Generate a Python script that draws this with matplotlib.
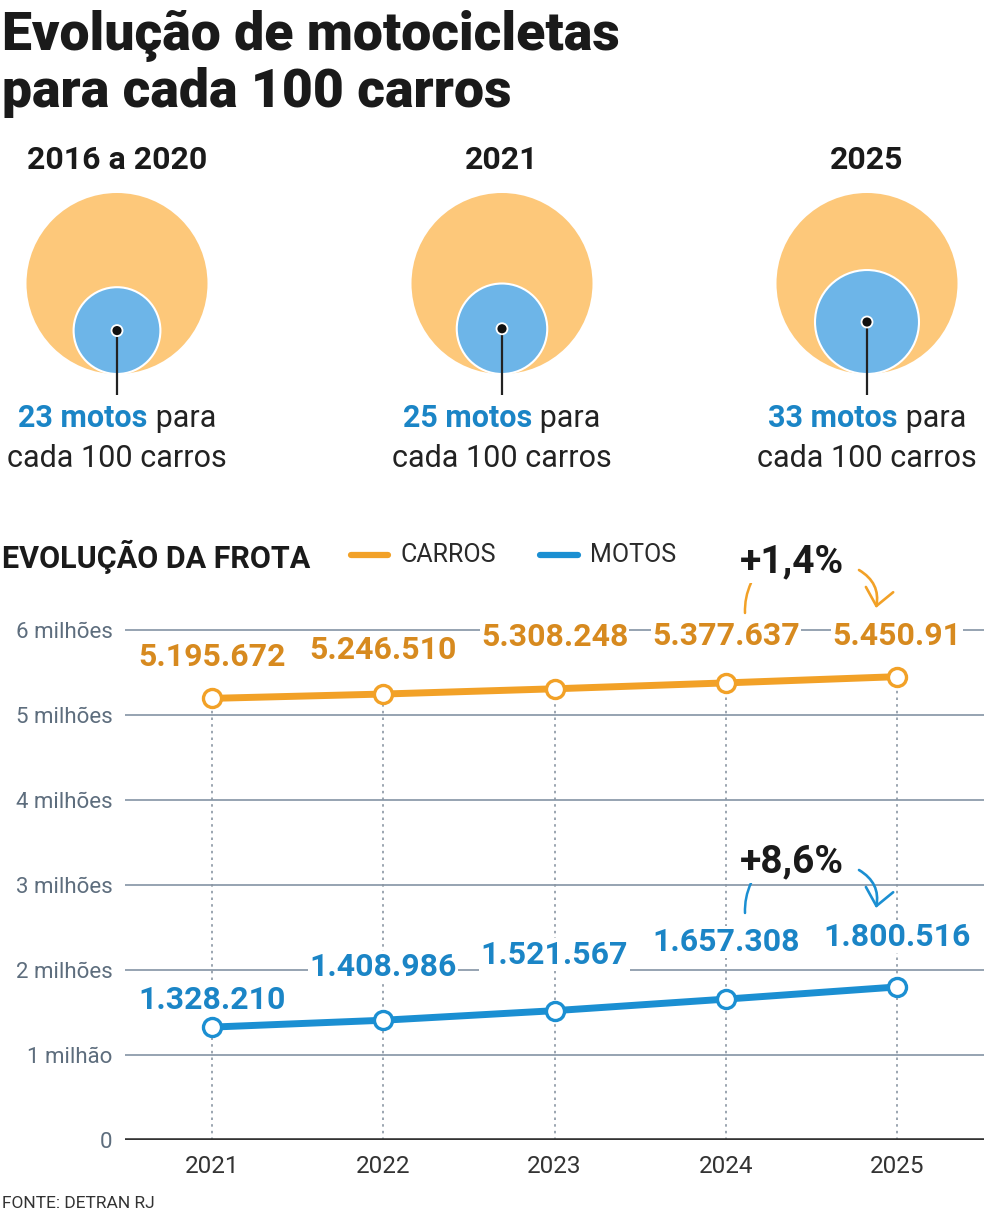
import matplotlib
matplotlib.use("Agg")
import matplotlib.pyplot as plt
from matplotlib.patches import Circle
from matplotlib.lines import Line2D
import numpy as np

# ---------------- data ----------------
ratio_periods = ["2016 a 2020", "2021", "2025"]
motos_per_100 = [23, 25, 33]

years = [2021, 2022, 2023, 2024, 2025]
carros = [5195672, 5246510, 5308248, 5377637, 5450910]
motos = [1328210, 1408986, 1521567, 1657308, 1800516]
carros_labels = ["5.195.672", "5.246.510", "5.308.248", "5.377.637", "5.450.91"]
motos_labels = ["1.328.210", "1.408.986", "1.521.567", "1.657.308", "1.800.516"]
ytick_vals = [0, 1e6, 2e6, 3e6, 4e6, 5e6, 6e6]
ytick_labels = ["0", "1 milhão", "2 milhões", "3 milhões", "4 milhões", "5 milhões", "6 milhões"]

# ---------------- style ----------------
plt.rcParams["font.family"] = ["Roboto", "DejaVu Sans"]
ORANGE = "#f2a127"
ORANGE_TXT = "#d78a1f"
BLUE = "#1b8fd2"
BLUE_TXT = "#1b85c6"
ORANGE_FILL = "#fdc87a"
BLUE_FILL = "#6db5e8"
DARK = "#1a1a1a"
GREY_TXT = "#5d6d7d"
GRID = "#8e9cab"

W, H = 984, 1218
fig = plt.figure(figsize=(W / 100, H / 100), dpi=100)
fig.patch.set_facecolor("white")

# ---------------- chart axes ----------------
px_per_m = 85.0
ax_left, ax_right, ax_zero, ax_top = 125, 984, 1140, 600
ax = fig.add_axes([ax_left / W, (H - ax_zero) / H, (ax_right - ax_left) / W, (ax_zero - ax_top) / H])
ax.set_ylim(0, (ax_zero - ax_top) / px_per_m * 1e6)
ax.set_xlim(2020.492, 2025.508)
for s in ax.spines.values():
    s.set_visible(False)
ax.set_yticks(ytick_vals)
ax.set_yticklabels(ytick_labels)
ax.set_xticks(years)
ax.set_xticklabels([str(y) for y in years])
ax.tick_params(axis="y", length=0, pad=9, labelsize=16, labelcolor=GREY_TXT)
ax.tick_params(axis="x", length=0, pad=11, labelsize=17.5, labelcolor="#333333")
ax.yaxis.grid(True, color=GRID, lw=1.3, zorder=0)
ax.set_axisbelow(True)
ax.axhline(0, color="#333333", lw=2.6, zorder=2)

ax.vlines(years, 0, carros, colors="#8a96a3", linestyles=(0, (1.5, 2.5)), lw=1.2, zorder=1)

ax.plot(years, carros, color=ORANGE, lw=5, marker="o", ms=13, mfc="white", mec=ORANGE,
        mew=2.4, zorder=4, solid_capstyle="round")
ax.plot(years, motos, color=BLUE, lw=5, marker="o", ms=13, mfc="white", mec=BLUE,
        mew=2.4, zorder=4, solid_capstyle="round")

carros_off_px = [41, 44, 52, 47, 41]
motos_off_px = [27, 53, 56, 57, 50]
for x, v, lab, off in zip(years, carros, carros_labels, carros_off_px):
    ax.annotate(lab, (x, v), xytext=(0, off * 0.72), textcoords="offset points", ha="center",
                va="center", fontsize=23, fontweight="bold", color=ORANGE_TXT, zorder=5,
                bbox=dict(fc="white", ec="none", pad=1.0))
for x, v, lab, off in zip(years, motos, motos_labels, motos_off_px):
    ax.annotate(lab, (x, v), xytext=(0, off * 0.72), textcoords="offset points", ha="center",
                va="center", fontsize=23, fontweight="bold", color=BLUE_TXT, zorder=5,
                bbox=dict(fc="white", ec="none", pad=1.0))

# ---------------- overlay (pixel coordinates) ----------------
ov = fig.add_axes([0, 0, 1, 1], zorder=10)
ov.set_xlim(0, W)
ov.set_ylim(H, 0)
ov.axis("off")
ov.patch.set_alpha(0)

# title
ov.text(2, 50, "Evolução de motocicletas", fontsize=38.5, fontweight="black", color=DARK,
        ha="left", va="baseline")
ov.text(2, 107, "para cada 100 carros", fontsize=38.5, fontweight="black", color=DARK,
        ha="left", va="baseline")

# circles
centers = [117, 502, 867]
R = 90.5
cy_big = 283.5
renderer = fig.canvas.get_renderer()
for cx, per, n in zip(centers, ratio_periods, motos_per_100):
    ov.text(cx, 169, per, fontsize=23, fontweight="bold", color=DARK, ha="center", va="baseline")
    ov.add_patch(Circle((cx, cy_big), R, fc=ORANGE_FILL, ec="none", zorder=2))
    r = R * np.sqrt(n / 100)
    cy_s = cy_big + R - r
    ov.add_patch(Circle((cx, cy_s), r, fc=BLUE_FILL, ec="white", lw=1.5, zorder=3))
    ov.plot([cx, cx], [cy_s, 395], color="#222222", lw=1.6, zorder=4, solid_capstyle="butt")
    ov.add_patch(Circle((cx, cy_s), 5.5, fc="#111111", ec="white", lw=1.3, zorder=5))
    t1 = ov.text(0, 427, f"{n} motos", fontsize=22, fontweight="bold", color=BLUE_TXT,
                 ha="left", va="baseline")
    t2 = ov.text(0, 427, " para", fontsize=22, color="#222222", ha="left", va="baseline")
    w1 = t1.get_window_extent(renderer).width
    w2 = t2.get_window_extent(renderer).width
    x0 = cx - (w1 + w2) / 2
    t1.set_x(x0)
    t2.set_x(x0 + w1)
    ov.text(cx, 467, "cada 100 carros", fontsize=22, color="#222222", ha="center", va="baseline")

# section heading and legend
ov.text(2, 557, "EVOLUÇÃO DA FROTA", fontsize=22, fontweight="bold", color=DARK,
        ha="left", va="center")
ov.add_line(Line2D([351, 388], [555, 555], color=ORANGE, lw=4.5, solid_capstyle="round"))
ov.text(400, 555, "CARROS", fontsize=18, color="#2a2a2a", ha="left", va="center")
ov.add_line(Line2D([540, 578], [555, 555], color=BLUE, lw=4.5, solid_capstyle="round"))
ov.text(590, 555, "MOTOS", fontsize=18, color="#2a2a2a", ha="left", va="center")

# growth annotations
g_car = (carros[-1] / carros[-2] - 1) * 100
g_moto = (motos[-1] / motos[-2] - 1) * 100
txt_car = "+" + f"{g_car:.1f}".replace(".", ",") + "%"
txt_moto = "+" + f"{g_moto:.1f}".replace(".", ",") + "%"

for txt, ty, col in [(txt_car, 562, ORANGE), (txt_moto, 862, BLUE)]:
    ov.text(792, ty, txt, fontsize=28, fontweight="bold", color=DARK, ha="center", va="center",
            zorder=6, bbox=dict(fc="white", ec="none", pad=2))
    ov.annotate("", xy=(751, ty + 21), xytext=(745, ty + 51),
                arrowprops=dict(arrowstyle="-", color=col, lw=1.8,
                                connectionstyle="arc3,rad=-0.12", shrinkA=0, shrinkB=0))
    ov.annotate("", xy=(876, ty + 46), xytext=(859, ty + 8),
                arrowprops=dict(arrowstyle="->,head_length=0.6,head_width=0.5", color=col, lw=1.9,
                                mutation_scale=20,
                                connectionstyle="arc3,rad=-0.35", shrinkA=0, shrinkB=0))

# source
ov.text(2, 1203, "FONTE: DETRAN RJ", fontsize=12.5, color="#333333", ha="left", va="center")

fig.savefig("out.png", dpi=100, facecolor="white")
